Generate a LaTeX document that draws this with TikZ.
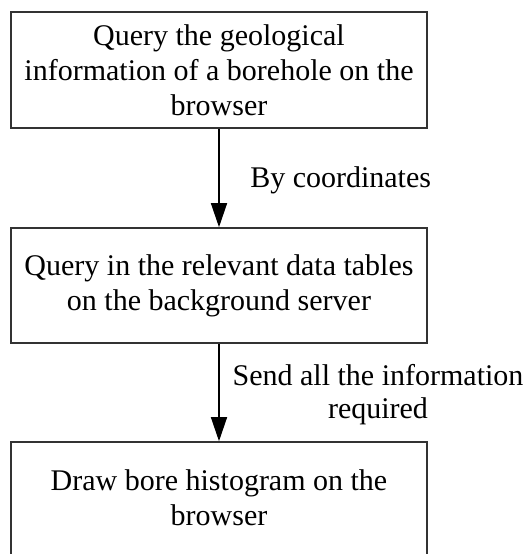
\documentclass[tikz,border=0pt]{standalone}
\usepackage{fontspec}
\setmainfont{Liberation Serif}
\usetikzlibrary{arrows.meta}
\begin{document}
\begin{tikzpicture}[x=0.75pt,y=-0.75pt,
  font=\fontsize{22.5}{26.25}\selectfont,
  stepbox/.style={draw=black!80,line width=1.2pt,rectangle,inner sep=0pt,
    minimum width=312pt,align=center},
  flow/.style={draw=black,line width=1.1pt,-{Triangle[length=18pt,width=12pt]}},
  lbl/.style={inner sep=0pt,align=center,font=\fontsize{22.5}{24.75}\selectfont}]
\useasboundingbox (0,0) rectangle (526,554);
\node[stepbox,minimum height=87pt] (b1) at (219,70)
  {Query the geological\\information of a borehole on the\\browser};
\node[stepbox,minimum height=86.25pt] (b2) at (219,285.5)
  {Query in the relevant data tables\\on the background server};
% the last box runs on past the lower edge of the page
\node[stepbox,minimum height=90pt] (b3) at (219,502)
  {Draw bore histogram on the\\browser\rule[-6pt]{0pt}{0pt}};
\draw[flow] (b1) -- (b2);
\draw[flow] (b2) -- (b3);
\node[lbl,anchor=base west] (l1) at (250,187) {By coordinates};
\node[lbl,anchor=base] (l2) at (378,418) {Send all the information\\required};
\end{tikzpicture}
\end{document}
